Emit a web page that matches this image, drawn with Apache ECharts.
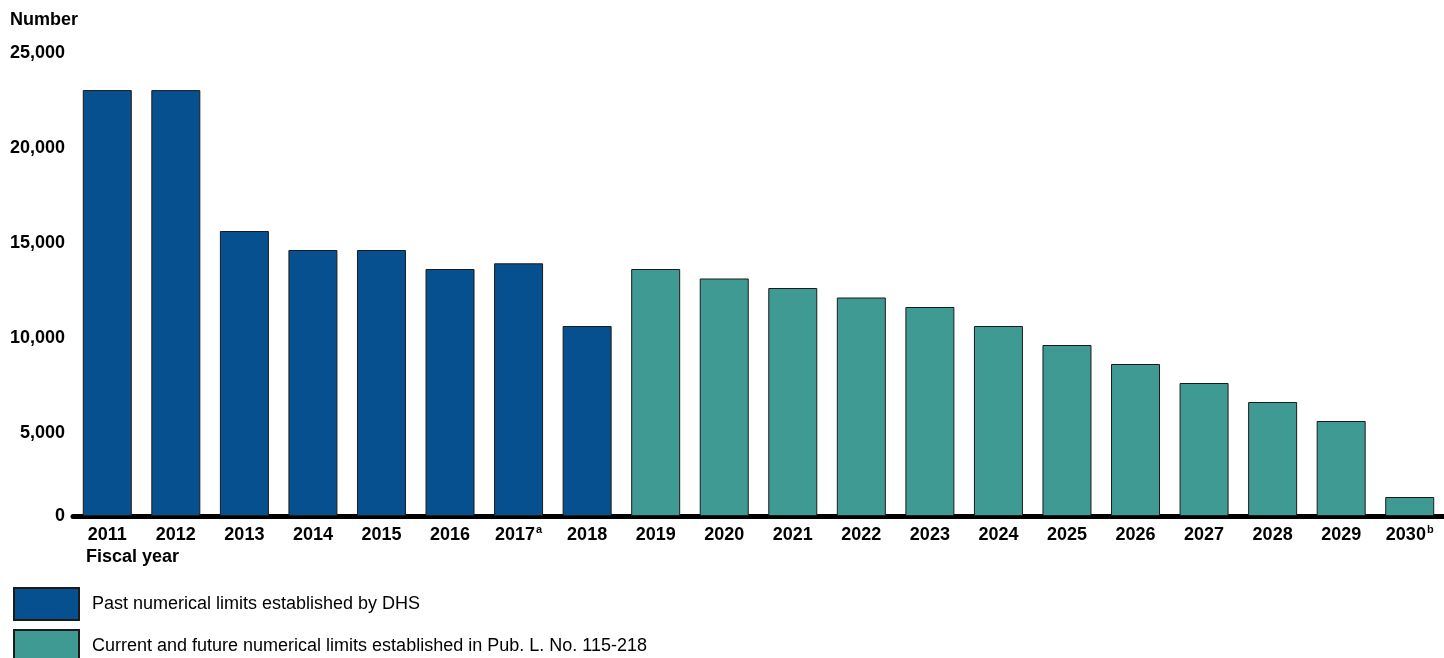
<!DOCTYPE html>
<html><head><meta charset="utf-8">
<script src="https://cdn.jsdelivr.net/npm/echarts@6/dist/echarts.min.js"></script>
<style>html,body{margin:0;padding:0;background:#fff}#c{width:1444px;height:658px}</style>
</head><body><div id="c"></div>
<script>
var years = ['2011','2012','2013','2014','2015','2016','2017','2018','2019','2020','2021','2022','2023','2024','2025','2026','2027','2028','2029','2030'];
var footnotes = {'2017':'a','2030':'b'};
var pastLimits = [22417,22416,15000,14000,14000,13000,13300,10000,null,null,null,null,null,null,null,null,null,null,null,null];
var lawLimits = [null,null,null,null,null,null,null,null,13000,12500,12000,11500,11000,10000,9000,8000,7000,6000,5000,1000];
var yTicks = [0,5000,10000,15000,20000,25000];
var seriesNames = ['Past numerical limits established by DHS','Current and future numerical limits established in Pub. L. No. 115-218'];

var FONT = '"Liberation Sans", Arial, sans-serif';
var legendText = {fontSize:18,color:'#000',fontFamily:FONT,padding:[0,0,0,8]};
var chart = echarts.init(document.getElementById('c'));
chart.setOption({
  animation:false,
  textStyle:{fontFamily:FONT},
  title:{text:'Number',left:10,top:11,padding:0,textStyle:{fontSize:18,fontWeight:'bold',color:'#000',fontFamily:FONT}},
  legend:[
    {left:13,top:587,itemWidth:65,itemHeight:32,icon:'rect',padding:0,textStyle:legendText,data:[seriesNames[0]]},
    {left:13,top:629,itemWidth:65,itemHeight:32,icon:'rect',padding:0,textStyle:legendText,data:[seriesNames[1]]}
  ],
  grid:{left:73,right:-4,top:41,bottom:142,containLabel:false},
  xAxis:{type:'category',data:years,
    axisLine:{show:true,lineStyle:{color:'#000',width:5}},
    axisTick:{show:false},
    axisLabel:{interval:0,margin:8,color:'#000',fontSize:18,fontWeight:'bold',fontFamily:FONT,
      formatter:function(v){return '{n|'+v+'}'+(footnotes[v]?'{s|'+footnotes[v]+'}':'');},
      rich:{n:{fontSize:18,lineHeight:22,fontWeight:'bold',color:'#000',fontFamily:FONT},
            s:{fontSize:11,lineHeight:12,fontWeight:'bold',color:'#000',verticalAlign:'top',padding:[0,0,10,1],fontFamily:FONT}}}
  },
  yAxis:{type:'value',min:yTicks[0],max:yTicks[yTicks.length-1],interval:5000,
    axisLine:{show:false},axisTick:{show:false},splitLine:{show:false},
    axisLabel:{margin:8,color:'#000',fontSize:18,fontWeight:'bold',fontFamily:FONT,
      formatter:function(v){var s=v.toLocaleString('en-US');return v===0?'{z|'+s+'}':'{n|'+s+'}';},
      rich:{z:{fontSize:18,fontWeight:'bold',color:'#000',fontFamily:FONT},
            n:{fontSize:18,fontWeight:'bold',color:'#000',fontFamily:FONT,padding:[25,0,0,0]}}}
  },
  series:[
    {name:seriesNames[0],type:'bar',stack:'s',data:pastLimits,barWidth:49,
      itemStyle:{color:'#06508F',borderColor:'#1b1b1b',borderWidth:1}},
    {name:seriesNames[1],type:'bar',stack:'s',data:lawLimits,barWidth:49,
      itemStyle:{color:'#3F9A94',borderColor:'#1b1b1b',borderWidth:1}}
  ],
  graphic:[{type:'text',left:86,top:548,style:{text:'Fiscal year',font:'bold 18px '+FONT,fill:'#000'}}]
});
</script></body></html>
